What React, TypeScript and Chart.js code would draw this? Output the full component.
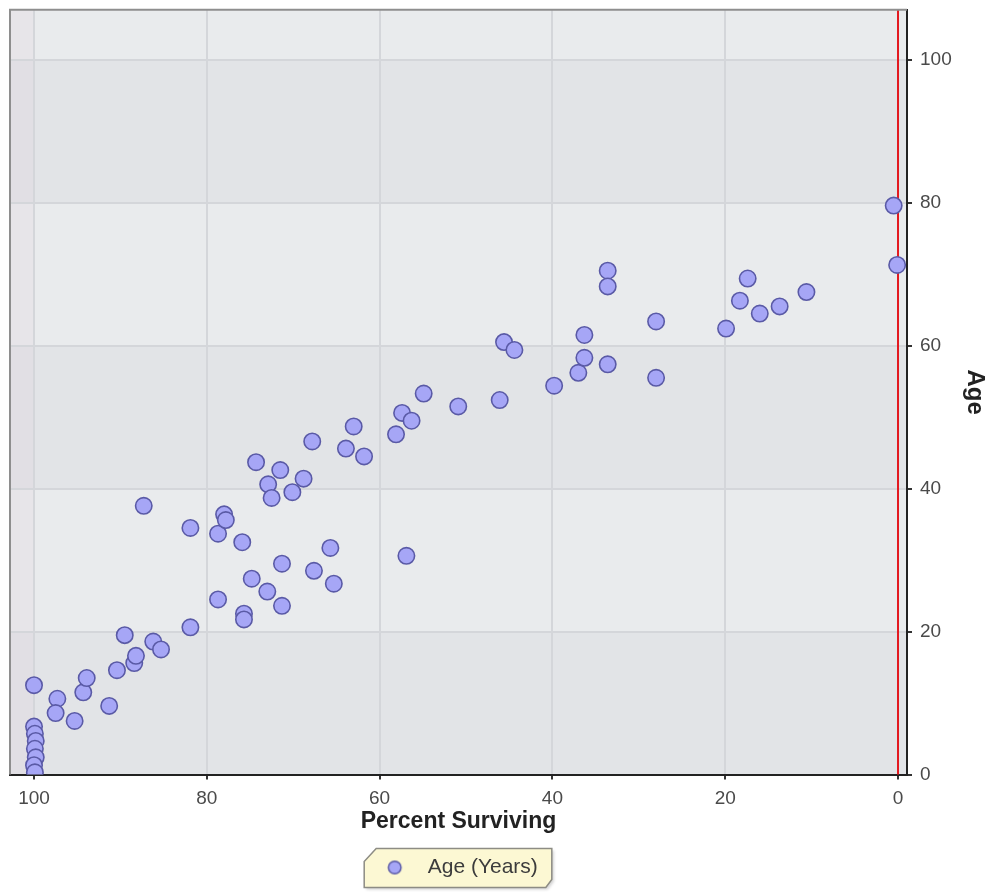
import React, { useEffect, useRef } from 'react';
import { Chart, registerables } from 'chart.js';

Chart.register(...registerables);

// ---- data ----
const SERIES_LABEL = 'Age (Years)';
const X_TITLE = 'Percent Surviving';
const Y_TITLE = 'Age';

const PERCENT_SURVIVING = [
  100, 100, 99.9, 99.8, 99.9, 99.8, 100, 99.9,
  97.3, 97.5, 95.3, 94.3, 93.9, 91.3, 90.4, 89.5, 88.4, 88.2, 86.2, 85.3,
  87.3, 81.9, 81.9, 78.7, 78.7, 78.0, 77.8, 75.9, 75.7, 75.7,
  74.8, 74.3, 72.9, 73.0, 72.5, 71.5, 71.3, 71.3, 70.1, 68.8,
  67.8, 67.6, 65.7, 65.3, 63.9, 63.0, 61.8, 58.1, 57.4, 56.9,
  56.3, 54.9, 50.9, 46.1, 45.6, 44.4, 39.8, 37.0, 36.3, 36.3,
  33.6, 33.6, 33.6, 28.0, 28.0, 19.9, 18.3, 17.4, 16.0, 13.7,
  10.6, 0.5, 0.1,
];

const AGE_YEARS = [
  12.5, 6.7, 5.7, 4.7, 3.6, 2.4, 1.3, 0.3,
  10.6, 8.6, 7.5, 11.5, 13.5, 9.6, 14.6, 19.5, 15.6, 16.6, 18.6, 17.5,
  37.6, 34.5, 20.6, 24.5, 33.7, 36.4, 35.6, 32.5, 22.5, 21.7,
  27.4, 43.7, 40.6, 25.6, 38.7, 42.6, 29.5, 23.6, 39.5, 41.4,
  46.6, 28.5, 31.7, 26.7, 45.6, 48.7, 44.5, 47.6, 50.6, 30.6,
  49.5, 53.3, 51.5, 52.4, 60.5, 59.4, 54.4, 56.2, 61.5, 58.3,
  70.5, 68.3, 57.4, 63.4, 55.5, 62.4, 66.3, 69.4, 64.5, 65.5,
  67.5, 79.6, 71.3,
];

const X_TICKS = [100, 80, 60, 40, 20, 0];
const Y_TICKS = [0, 20, 40, 60, 80, 100];
const X_RANGE = [-1.04, 102.78];
const Y_RANGE = [0, 107];
const BAND_EDGES = [0, 20, 40, 60, 80, 100, 107];
const REFERENCE_LINE_X = 0;

// ---- styles ----
const FONT = '"Liberation Sans", Arial, sans-serif';
const POINT_FILL = '#a6a6f6';
const POINT_BORDER = '#5a5aa6';
const BAND_DARK = '#e2e4e7';
const BAND_LIGHT = '#e9ebed';

function makeMarker(): HTMLCanvasElement {
  const c = document.createElement('canvas');
  c.width = 38;
  c.height = 18;
  const g = c.getContext('2d')!;
  g.beginPath();
  g.arc(15.5, 9, 6.3, 0, Math.PI * 2);
  g.fillStyle = POINT_FILL;
  g.fill();
  g.lineWidth = 1.5;
  g.strokeStyle = POINT_BORDER;
  g.stroke();
  return c;
}

function zeroPadding(s: any) {
  s.paddingTop = 0;
  s.paddingBottom = 0;
  s.paddingLeft = 0;
  s.paddingRight = 0;
}

const decorPlugin = {
  id: 'decor',
  beforeDraw(chart: any) {
    const { ctx, chartArea: a, scales } = chart;
    const x = scales.x;
    const y = scales.y;
    ctx.save();
    for (let i = 0; i < BAND_EDGES.length - 1; i++) {
      const y0 = y.getPixelForValue(BAND_EDGES[i]);
      const y1 = y.getPixelForValue(BAND_EDGES[i + 1]);
      ctx.fillStyle = i % 2 === 0 ? BAND_DARK : BAND_LIGHT;
      ctx.fillRect(a.left, Math.min(y0, y1), a.width, Math.abs(y1 - y0));
    }
    // faint tint beyond 100 %
    const x100 = x.getPixelForValue(100);
    ctx.fillStyle = 'rgba(225,190,205,0.12)';
    ctx.fillRect(a.left, a.top, x100 - a.left, a.height);

    // legend background
    const hb = chart.legend && chart.legend.legendHitBoxes && chart.legend.legendHitBoxes[0];
    if (hb) {
      const L = hb.left - 15;
      const R = hb.left + hb.width + 14;
      const T = hb.top - 8.5;
      const B = hb.top + hb.height + 9.5;
      ctx.beginPath();
      ctx.moveTo(L + 12, T);
      ctx.lineTo(R, T);
      ctx.lineTo(R, B - 8);
      ctx.lineTo(R - 6, B);
      ctx.lineTo(L, B);
      ctx.lineTo(L, T + 13);
      ctx.closePath();
      ctx.shadowColor = 'rgba(0,0,0,0.18)';
      ctx.shadowOffsetX = 2;
      ctx.shadowOffsetY = 2;
      ctx.shadowBlur = 3;
      ctx.fillStyle = '#fcf8d3';
      ctx.fill();
      ctx.shadowColor = 'transparent';
      ctx.lineWidth = 1.5;
      ctx.strokeStyle = '#8d8c84';
      ctx.stroke();
    }
    ctx.restore();
  },
  beforeDatasetsDraw(chart: any) {
    const { ctx, chartArea: a, scales } = chart;
    const px = scales.x.getPixelForValue(REFERENCE_LINE_X);
    ctx.save();
    ctx.strokeStyle = '#e3191f';
    ctx.lineWidth = 2;
    ctx.beginPath();
    ctx.moveTo(px, a.top);
    ctx.lineTo(px, a.bottom);
    ctx.stroke();
    ctx.restore();
  },
  afterDraw(chart: any) {
    const { ctx, chartArea: a } = chart;
    ctx.save();
    ctx.strokeStyle = '#8e8e8e';
    ctx.lineWidth = 2;
    ctx.beginPath();
    ctx.moveTo(a.left, a.bottom);
    ctx.lineTo(a.left, a.top);
    ctx.lineTo(a.right, a.top);
    ctx.stroke();
    ctx.restore();
  },
};

export default function App() {
  const ref = useRef<HTMLCanvasElement | null>(null);

  useEffect(() => {
    document.body.style.margin = '0';
    document.body.style.overflow = 'hidden';
    const canvas = ref.current;
    if (!canvas) return;
    const marker = makeMarker();
    const points = PERCENT_SURVIVING.map((v, i) => ({ x: v, y: AGE_YEARS[i] }));

    const chart = new Chart(canvas, {
      type: 'scatter',
      data: {
        datasets: [
          {
            label: SERIES_LABEL,
            data: points,
            pointRadius: 8.2,
            pointHoverRadius: 8.2,
            pointBorderWidth: 1.6,
            backgroundColor: POINT_FILL,
            borderColor: POINT_BORDER,
          },
        ],
      },
      options: {
        responsive: false,
        animation: false,
        layout: { padding: { left: 10, top: 5, right: 0, bottom: 4 } },
        plugins: {
          tooltip: { enabled: false },
          legend: {
            display: true,
            position: 'bottom',
            fullSize: false,
            labels: {
              usePointStyle: true,
              pointStyle: marker as any,
              pointStyleWidth: 38,
              padding: 10.5,
              color: '#3c3c3c',
              font: { size: 21, family: FONT },
            },
          },
        },
        scales: {
          x: {
            type: 'linear',
            position: 'bottom',
            reverse: true,
            min: X_RANGE[0],
            max: X_RANGE[1],
            afterBuildTicks: (s: any) => {
              s.ticks = X_TICKS.map((v) => ({ value: v }));
            },
            afterFit: (s: any) => {
              s.height = 72;
              zeroPadding(s);
            },
            grid: {
              color: '#d4d6da',
              lineWidth: 2,
              tickLength: 5,
              tickColor: '#333',
              tickWidth: 2,
            },
            border: { color: '#222', width: 2 },
            ticks: {
              color: '#4a4a4a',
              font: { size: 19, family: FONT },
              padding: 8,
              maxRotation: 0,
              autoSkip: false,
            },
            title: {
              display: true,
              text: X_TITLE,
              color: '#222',
              font: { size: 23, weight: 'bold', family: FONT },
              padding: { top: 0, bottom: 11.2 },
            },
          },
          y: {
            type: 'linear',
            position: 'right',
            min: Y_RANGE[0],
            max: Y_RANGE[1],
            afterBuildTicks: (s: any) => {
              s.ticks = Y_TICKS.map((v) => ({ value: v }));
            },
            afterFit: (s: any) => {
              s.width = 80;
              zeroPadding(s);
            },
            grid: {
              color: '#d4d6da',
              lineWidth: 2,
              tickLength: 5,
              tickColor: '#333',
              tickWidth: 2,
            },
            border: { color: '#222', width: 2 },
            ticks: {
              color: '#4a4a4a',
              font: { size: 19, family: FONT },
              padding: 8,
              autoSkip: false,
            },
            title: {
              display: true,
              text: Y_TITLE,
              color: '#222',
              font: { size: 24, weight: 'bold', family: FONT, lineHeight: 1 },
              padding: { top: 0, bottom: 0 },
            },
          },
        },
      },
      plugins: [decorPlugin],
    });

    return () => {
      chart.destroy();
    };
  }, []);

  return (
    <div style={{ width: 987, height: 892, background: '#fff' }}>
      <canvas ref={ref} width={987} height={892} style={{ display: 'block' }} />
    </div>
  );
}
